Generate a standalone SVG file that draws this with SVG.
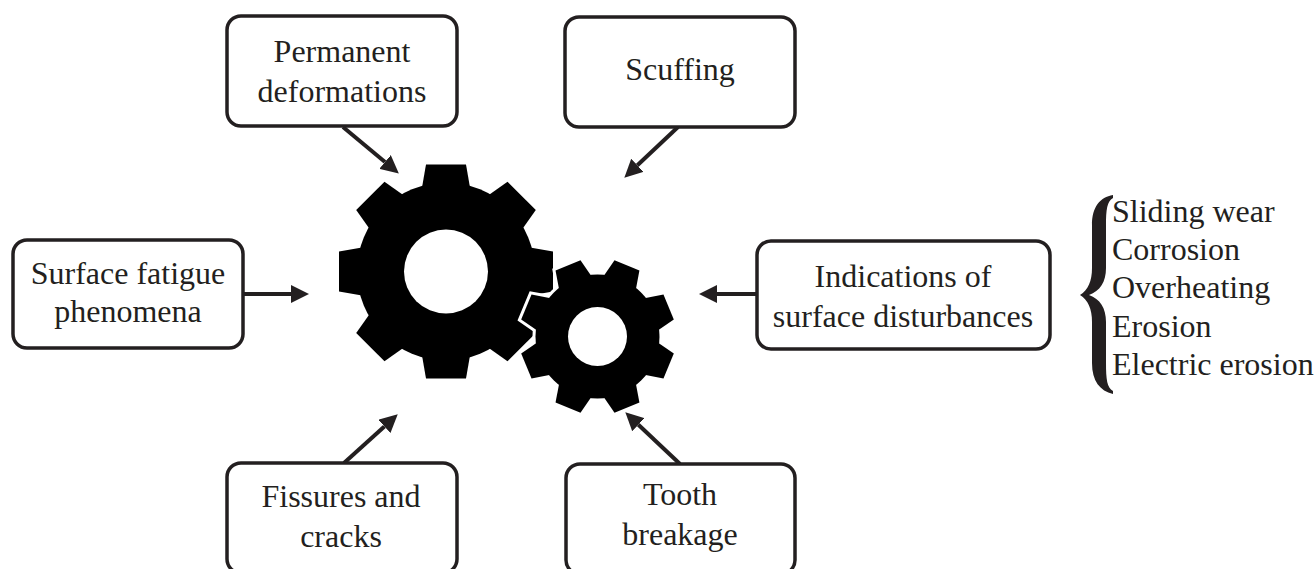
<svg xmlns="http://www.w3.org/2000/svg" xmlns:xlink="http://www.w3.org/1999/xlink" width="1316" height="569" viewBox="0 0 1316 569">
<style>
.box{fill:#fff;stroke:#231f20;stroke-width:3.5}
.t{font-family:"Liberation Serif","DejaVu Serif",serif;font-size:32px;fill:#231f20}
.c{text-anchor:middle}
.conn line{stroke:#231f20;stroke-width:4;marker-end:url(#ah)}
</style>
<defs>
<marker id="ah" viewBox="0 -9 18 18" refX="0" refY="0" markerWidth="18" markerHeight="18" markerUnits="userSpaceOnUse" orient="auto">
<path d="M0,-9 L18,0 L0,9 Z" fill="#231f20"/>
</marker>
<polygon id="bt" points="-24,-84 -20,-107 20,-107 24,-84"/>
<polygon id="st" points="-17.5,-58 -13.5,-77 13.5,-77 17.5,-58"/>
<g id="sg">
<circle r="62"/>
<use xlink:href="#st" transform="rotate(22.5)"/>
<use xlink:href="#st" transform="rotate(67.5)"/>
<use xlink:href="#st" transform="rotate(112.5)"/>
<use xlink:href="#st" transform="rotate(157.5)"/>
<use xlink:href="#st" transform="rotate(202.5)"/>
<use xlink:href="#st" transform="rotate(247.5)"/>
<use xlink:href="#st" transform="rotate(292.5)"/>
<use xlink:href="#st" transform="rotate(337.5)"/>
</g>
</defs>
<rect width="1316" height="569" fill="#fff"/>

<g id="gears">
<g id="big-gear" transform="translate(446,271.5)" fill="#000">
<circle r="89"/>
<use xlink:href="#bt"/>
<use xlink:href="#bt" transform="rotate(45)"/>
<use xlink:href="#bt" transform="rotate(90)"/>
<use xlink:href="#bt" transform="rotate(135)"/>
<use xlink:href="#bt" transform="rotate(180)"/>
<use xlink:href="#bt" transform="rotate(225)"/>
<use xlink:href="#bt" transform="rotate(270)"/>
<use xlink:href="#bt" transform="rotate(315)"/>
<circle r="42" fill="#fff"/>
</g>
<g id="small-gear" transform="translate(597.5,336.5)">
<use xlink:href="#sg" fill="#fff" stroke="#fff" stroke-width="6" stroke-linejoin="miter"/>
<use xlink:href="#sg" fill="#000"/>
<circle r="29.5" fill="#fff"/>
</g>
</g>

<g id="connectors" class="conn">
<line x1="343" y1="127" x2="385" y2="162"/>
<line x1="678" y1="127" x2="637.4" y2="165.3"/>
<line x1="244" y1="294" x2="291" y2="294"/>
<line x1="757" y1="294" x2="717" y2="294"/>
<line x1="344" y1="463" x2="384.4" y2="426.4"/>
<line x1="680" y1="464" x2="638.4" y2="424.7"/>
</g>

<g id="n-permanent">
<rect class="box" x="227" y="16" width="230" height="110" rx="14"/>
<text class="t c" x="342" y="62">Permanent</text>
<text class="t c" x="342" y="102">deformations</text>
</g>
<g id="n-scuffing">
<rect class="box" x="565" y="17" width="230" height="110" rx="14"/>
<text class="t c" x="680" y="80">Scuffing</text>
</g>
<g id="n-surface-fatigue">
<rect class="box" x="13" y="240" width="230" height="108" rx="14"/>
<text class="t c" x="128" y="284">Surface fatigue</text>
<text class="t c" x="128" y="322">phenomena</text>
</g>
<g id="n-indications">
<rect class="box" x="757" y="241" width="293" height="108" rx="14"/>
<text class="t c" x="903" y="287">Indications of</text>
<text class="t c" x="903" y="327">surface disturbances</text>
</g>
<g id="n-fissures">
<rect class="box" x="227" y="463" width="230" height="110" rx="14"/>
<text class="t c" x="341" y="507">Fissures and</text>
<text class="t c" x="341" y="547">cracks</text>
</g>
<g id="n-tooth">
<rect class="box" x="566" y="464" width="229" height="110" rx="14"/>
<text class="t c" x="680" y="505">Tooth</text>
<text class="t c" x="680" y="545">breakage</text>
</g>

<g id="n-list">
<path fill="#231f20" d="M1113,195 C1100,197 1092,207 1092,225 L1092,268 C1092,281 1088,290 1080,295 C1088,300 1092,309 1092,322 L1092,363 C1092,381 1100,391 1113,394 L1113,391 C1107,388 1106,379 1106,363 L1106,322 C1106,308 1100,299 1089,295 C1100,291 1106,282 1106,268 L1106,225 C1106,210 1107,201 1113,198 Z"/>
<text class="t" x="1112" y="222">Sliding wear</text>
<text class="t" x="1112" y="260">Corrosion</text>
<text class="t" x="1112" y="298">Overheating</text>
<text class="t" x="1112" y="337">Erosion</text>
<text class="t" x="1112" y="375">Electric erosion</text>
</g>
</svg>
